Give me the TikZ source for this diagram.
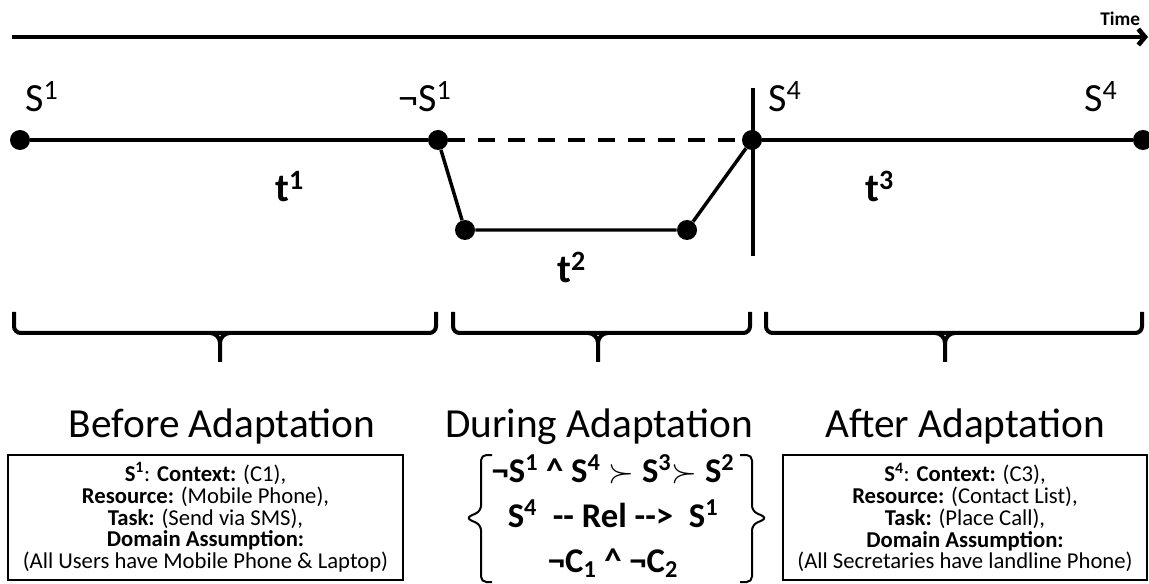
\documentclass[tikz,border=0pt]{standalone}
\usepackage{fontspec}
\setmainfont{Carlito}
\usetikzlibrary{arrows.meta}
\begin{document}
\begin{tikzpicture}[x=0.75pt,y=-0.75pt,
  dot/.style={circle,fill=black,inner sep=0pt,minimum size=15pt},
  tl/.style={line width=3pt},
  slab/.style={font=\fontsize{30}{34}\selectfont,anchor=base west,inner sep=0pt},
  tlab/.style={font=\fontsize{30}{34}\selectfont\bfseries,anchor=base west,inner sep=0pt},
  phase/.style={font=\fontsize{31}{36}\selectfont,anchor=base,inner sep=0pt},
  brace/.style={line width=3pt,rounded corners=5pt},
  infobox/.style={draw,line width=1.5pt,align=center,font=\fontsize{17}{16.4}\selectfont,inner sep=0pt},
  bracket/.style={line width=1.5pt,rounded corners=4pt},
  midtext/.style={align=center,font=\fontsize{26}{34}\selectfont\bfseries,inner sep=0pt}]
\useasboundingbox (0,0) rectangle (1149,584);
% time arrow
\coordinate (ts) at (12,37);
\coordinate (te) at (1148,37);
\draw[line width=3.5pt,-{Straight Barb[length=5pt,width=12pt]}] (ts) -- (te);
\node[font=\fontsize{14.5}{18}\selectfont\bfseries,anchor=base west,inner sep=0pt] (time) at (1100,26) {Time};
% dots
\node[dot] (d1) at (20,140) {};
\node[dot] (d2) at (438,140) {};
\node[dot] (d3) at (752,140) {};
\node[dot] (d4) at (1143,140) {};
\node[dot] (d5) at (465,230) {};
\node[dot] (d6) at (687,230) {};
\draw[tl] (d1) -- (d2);
\draw[tl,dash pattern=on 12.75pt off 9.75pt] (d2) -- (d3);
\draw[tl] (d3) -- (d4);
\draw[line width=2.6pt] (d2) -- (d5) -- (d6) -- (d3);
\coordinate (vt) at (753,88);
\coordinate (vb) at (753,256);
\draw[line width=2.6pt] (vt) -- (vb);
% state labels
\node[slab] (l1) at (25,112) {S\textsuperscript{1}};
\node[slab] (l2) at (398,112) {¬S\textsuperscript{1}};
\node[slab] (l3) at (768,112) {S\textsuperscript{4}};
\node[slab] (l4) at (1084,112) {S\textsuperscript{4}};
\node[tlab] (t1) at (275,202) {t\textsuperscript{1}};
\node[tlab] (t2) at (557,283) {t\textsuperscript{2}};
\node[tlab] (t3) at (865,202) {t\textsuperscript{3}};
% braces
\draw[brace] (14,312) -- (14,333) -- (436,333) -- (436,312);
\draw[line width=3pt] (210,333) to[out=0,in=90] (220,343) -- (220,362);
\draw[line width=3pt] (230,333) to[out=180,in=90] (220,343);
\draw[brace] (453,312) -- (453,333) -- (750,333) -- (750,312);
\draw[line width=3pt] (588,333) to[out=0,in=90] (598,343) -- (598,362);
\draw[line width=3pt] (608,333) to[out=180,in=90] (598,343);
\draw[brace] (766,312) -- (766,333) -- (1142,333) -- (1142,312);
\draw[line width=3pt] (935,333) to[out=0,in=90] (945,343) -- (945,362);
\draw[line width=3pt] (955,333) to[out=180,in=90] (945,343);
% phase labels
\node[phase] (p1) at (222,437) {Before Adaptation};
\node[phase] (p2) at (599,437) {During Adaptation};
\node[phase] (p3) at (965,437) {After Adaptation};
% boxes
\node[infobox,minimum width=296pt,minimum height=94pt] (b1) at (205.5,517.5)
  {\textbf{S\textsuperscript{1}}: \textbf{Context:} (C1),\\
   \textbf{Resource:} (Mobile Phone),\\
   \textbf{Task:} (Send via SMS),\\
   \textbf{Domain Assumption:}\\
   (All Users have Mobile Phone \& Laptop)};
\node[infobox,minimum width=273pt,minimum height=94pt] (b3) at (965,517.5)
  {\textbf{S\textsuperscript{4}}: \textbf{Context:} (C3),\\
   \textbf{Resource:} (Contact List),\\
   \textbf{Task:} (Place Call),\\
   \textbf{Domain Assumption:}\\
   (All Secretaries have landline Phone)};
% middle bracket
\draw[bracket] (492,455) -- (481,455) -- (481,511) -- (466,518) -- (481,525) -- (481,582) -- (492,582);
\draw[bracket] (740,455) -- (752,455) -- (752,511) -- (767,518) -- (752,525) -- (752,582) -- (740,582);
\node[midtext] (m) at (613,516)
  {¬S\textsuperscript{1} \textasciicircum{} S\textsuperscript{4} $\succ$ S\textsuperscript{3}$\succ$ S\textsuperscript{2}\\
   S\textsuperscript{4} \ -{}- Rel -{}-> \ S\textsuperscript{1}\\
   ¬C\textsubscript{1} \textasciicircum{} ¬C\textsubscript{2}};
\end{tikzpicture}
\end{document}
